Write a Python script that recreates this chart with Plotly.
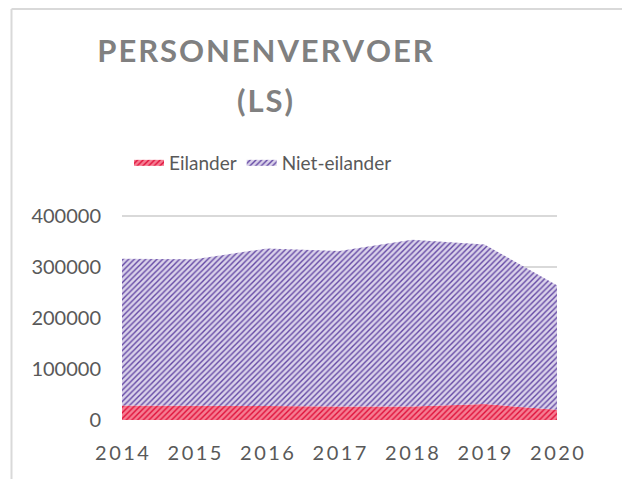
import plotly.graph_objects as go

years = [2014, 2015, 2016, 2017, 2018, 2019, 2020]
eilander = [28600, 28000, 27300, 26700, 26700, 31200, 20200]
niet_eilander = [287600, 287000, 309100, 304500, 326600, 313000, 243900]
year_labels = ["\u2009".join(str(y)) for y in years]
y_ticks = [0, 100000, 200000, 300000, 400000]
title_line1 = "PERSONENVERVOER"
title_line2 = "(LS)"

FONT = "Lato"
OFF = 8  # page body margin
W, H = 630 - OFF, 479 - OFF
L, R, T, B = 122 - OFF, 557 - OFF, 215 - OFF, 420 - OFF


def px_x(x):
    return (x - OFF - L) / (R - L)


def px_y(y):
    return (B - (y - OFF)) / (B - T)


fig = go.Figure()
fig.add_trace(go.Scatter(
    x=years, y=eilander, name="Eilander", stackgroup="one", mode="none",
    fillcolor="#f57d92",
    fillpattern=dict(shape="/", bgcolor="#f57d92", fgcolor="#e0103a",
                     size=4, solidity=0.35, fillmode="replace"),
))
fig.add_trace(go.Scatter(
    x=years, y=niet_eilander, name="Niet-eilander", stackgroup="one", mode="none",
    fillcolor="#dad2ea",
    fillpattern=dict(shape="/", bgcolor="#dad2ea", fgcolor="#6448a4",
                     size=4, solidity=0.35, fillmode="replace"),
))

title_font = dict(family=FONT, size=31, color="#808080", weight="bold")

line_style = dict(color="#d9d9d9", width=2)
shapes = [
    dict(type="line", xref="paper", yref="paper", x0=px_x(11.5), x1=px_x(640),
         y0=px_y(9), y1=px_y(9), line=line_style),
    dict(type="line", xref="paper", yref="paper", x0=px_x(11.5), x1=px_x(11.5),
         y0=px_y(9), y1=px_y(490), line=line_style),
]

fig.update_layout(
    width=W, height=H,
    margin=dict(l=L, r=W - R, t=T, b=H - B),
    paper_bgcolor="white", plot_bgcolor="white",
    font=dict(family=FONT, color="#595959"),
    title=dict(text="\u200a".join(title_line1), xref="container", yref="container",
               x=(265 - OFF) / W, xanchor="center", y=1 - (51 - OFF) / H,
               yanchor="middle", font=title_font),
    annotations=[dict(text="\u200a".join(title_line2), xref="paper", yref="paper",
                      x=px_x(265), y=px_y(100), xanchor="center", yanchor="middle",
                      showarrow=False, font=title_font)],
    legend=dict(orientation="h", xref="container", yref="container",
                x=(263 - OFF) / W, xanchor="center", y=1 - (163 - OFF) / H,
                yanchor="middle",
                font=dict(family=FONT, size=19, color="#595959"),
                itemwidth=30, traceorder="normal"),
    xaxis=dict(range=[2014, 2020], tickvals=years, ticktext=year_labels,
               showgrid=False, zeroline=False, showline=False, ticks="",
               tickfont=dict(family=FONT, size=20, color="#595959"),
               ticklabelstandoff=19),
    yaxis=dict(range=[0, 402000], tickvals=y_ticks,
               showgrid=True, gridcolor="#d9d9d9", gridwidth=1.5,
               zeroline=False, showline=False, ticks="",
               tickformat="d",
               tickfont=dict(family=FONT, size=20, color="#595959"),
               ticklabelstandoff=20),
    shapes=shapes,
    showlegend=True,
)

fig.write_html("out.html")
